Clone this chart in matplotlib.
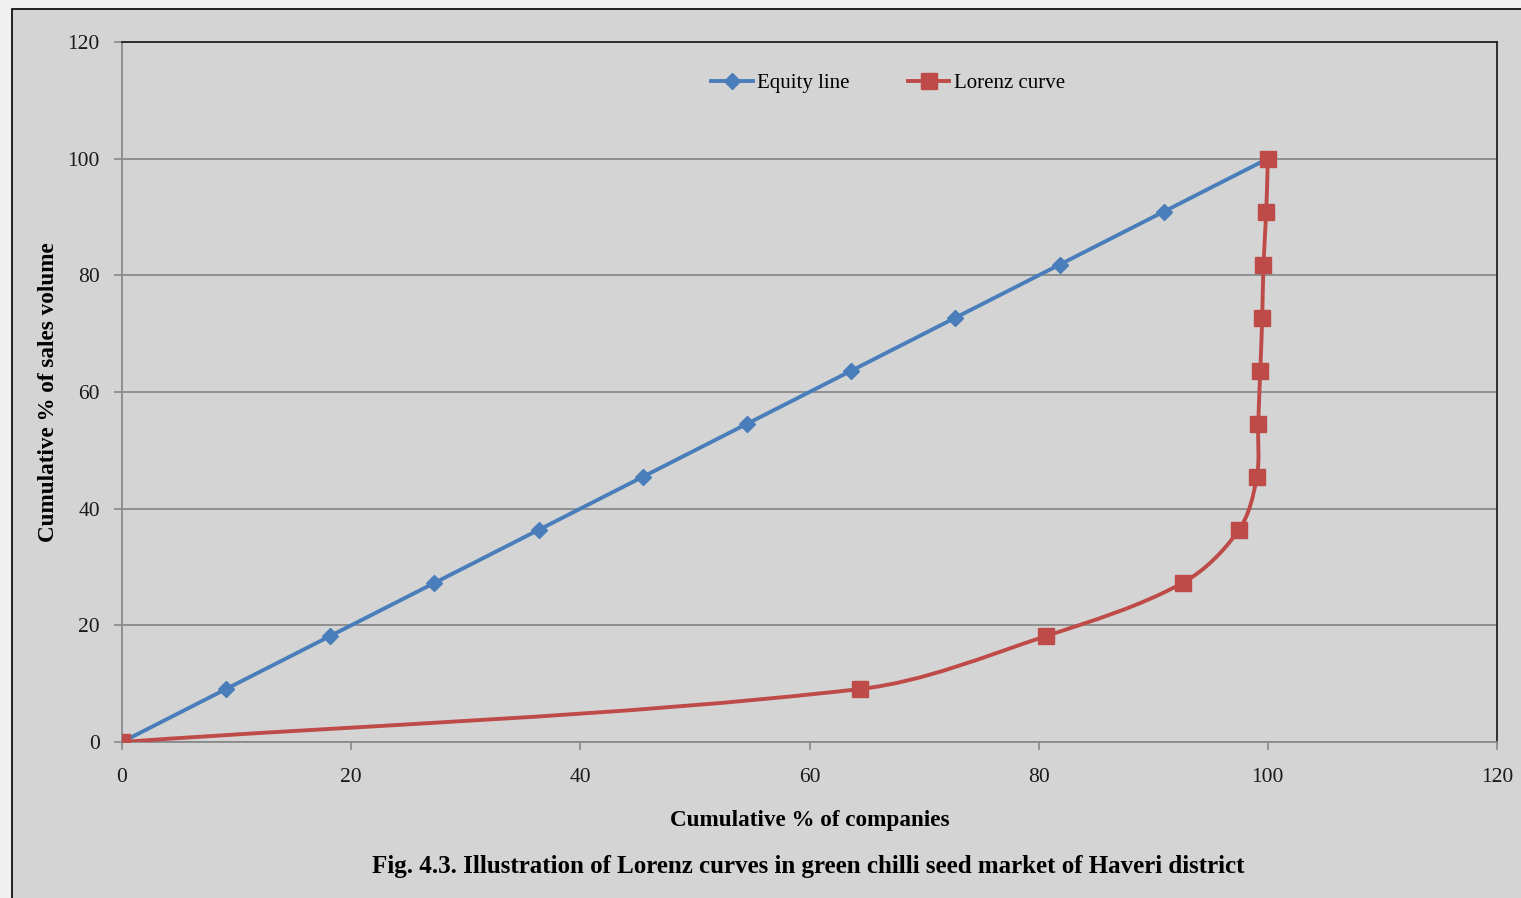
import numpy as np
import matplotlib
matplotlib.use('Agg')
import matplotlib.pyplot as plt
from matplotlib.path import Path
from matplotlib.patches import PathPatch, Rectangle
from matplotlib.lines import Line2D

plt.rcParams['font.family'] = ['Liberation Serif', 'DejaVu Serif']

# cumulative shares (%)
equity_x = [0, 9.09, 18.18, 27.27, 36.36, 45.45, 54.55, 63.64, 72.73, 81.82, 90.91, 100]
equity_y = [0, 9.09, 18.18, 27.27, 36.36, 45.45, 54.55, 63.64, 72.73, 81.82, 90.91, 100]
lorenz_x = [0, 64.44, 80.67, 92.56, 97.47, 99.04, 99.16, 99.34, 99.51, 99.62, 99.86, 100]
lorenz_y = [0, 9.09, 18.18, 27.27, 36.36, 45.45, 54.55, 63.64, 72.73, 81.82, 90.91, 100]

BLUE = '#4a7ebb'
RED = '#be4b48'
GRID = '#8a8a8a'
BG = '#d4d4d4'


def smooth_path(ax, xs, ys):
    # smoothed line: cubic Bezier through every point, built in pixel space
    p = ax.transData.transform(np.column_stack([xs, ys]))
    n = len(p)
    dirs = []
    for i in range(n):
        a = p[max(i - 1, 0)]
        b = p[min(i + 1, n - 1)]
        d = b - a
        dirs.append(d / np.hypot(*d))
    verts = [p[0]]
    codes = [Path.MOVETO]
    for i in range(n - 1):
        seg = np.hypot(*(p[i + 1] - p[i])) / 3.0
        verts += [p[i] + dirs[i] * seg, p[i + 1] - dirs[i + 1] * seg, p[i + 1]]
        codes += [Path.CURVE4] * 3
    verts = ax.transData.inverted().transform(np.array(verts))
    return Path(verts, codes)


fig = plt.figure(figsize=(15.21, 8.98), dpi=100)
fig.patch.set_facecolor('#f0f0f0')
fig.patches.append(Rectangle((12 / 1521, -0.05), 1.1, 1 - 9 / 898 + 0.05,
                             transform=fig.transFigure, facecolor=BG,
                             edgecolor='black', linewidth=1.2, zorder=-10))

ax = fig.add_axes([122 / 1521, 1 - 742 / 898, 1375 / 1521, 700 / 898])
ax.set_facecolor(BG)
ax.set_xlim(0, 120)
ax.set_ylim(0, 120)

ax.add_patch(PathPatch(smooth_path(ax, equity_x, equity_y), facecolor='none',
                       edgecolor=BLUE, linewidth=2.8, zorder=3))
ax.add_patch(PathPatch(smooth_path(ax, lorenz_x, lorenz_y), facecolor='none',
                       edgecolor=RED, linewidth=2.8, zorder=3))
ax.plot(equity_x, equity_y, linestyle='none', marker='D', markersize=8,
        color=BLUE, zorder=4)
ax.plot(lorenz_x, lorenz_y, linestyle='none', marker='s', markersize=11.5,
        color=RED, zorder=5)

ax.set_xticks(range(0, 121, 20))
ax.set_yticks(range(0, 121, 20))
ax.tick_params(axis='both', direction='out', length=6, width=1.2,
               color=GRID, labelsize=15.5, labelcolor='#1a1a1a')
ax.tick_params(axis='x', pad=13)
ax.tick_params(axis='y', pad=10)

ax.yaxis.grid(True, color=GRID, linewidth=1.3)
ax.set_axisbelow(True)
for side in ['left', 'bottom']:
    ax.spines[side].set_color(GRID)
    ax.spines[side].set_linewidth(1.3)
for side in ['top', 'right']:
    ax.spines[side].set_color('#222222')
    ax.spines[side].set_linewidth(1.3)

ax.set_xlabel('Cumulative % of companies', fontsize=16.7, fontweight='bold',
              labelpad=16)
ax.set_ylabel('Cumulative % of sales volume', fontsize=16.7, fontweight='bold',
              labelpad=6)

handles = [
    Line2D([], [], color=BLUE, linewidth=2.8, marker='D', markersize=8),
    Line2D([], [], color=RED, linewidth=2.8, marker='s', markersize=11.5),
]
ax.legend(handles, ['Equity line', 'Lorenz curve'], loc='center',
          bbox_to_anchor=(0.557, 0.941), ncol=2, frameon=False, fontsize=15,
          handlelength=2.0, handletextpad=0.2, columnspacing=2.8)

fig.text(808 / 1521, 1 - 867 / 898,
         'Fig. 4.3. Illustration of Lorenz curves in green chilli seed market of Haveri district',
         ha='center', va='center', fontsize=18, fontweight='bold')

fig.savefig('out.png', dpi=100, facecolor=fig.get_facecolor())
